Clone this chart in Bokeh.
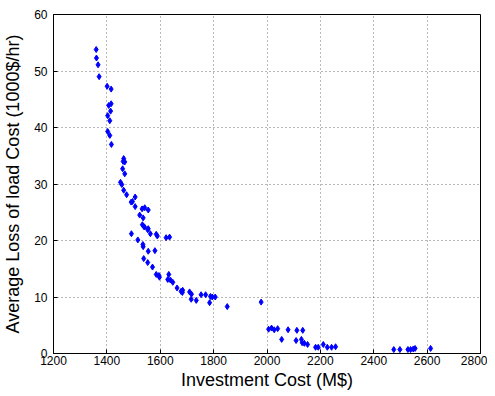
from bokeh.plotting import figure
from bokeh.models import FixedTicker, Range1d
from bokeh.embed import file_html
from bokeh.resources import INLINE

investment = [1360, 1361, 1367, 1371, 1401, 1416, 1416, 1407, 1414, 1403, 1411, 1403, 1411, 1417,
              1463, 1461, 1467, 1459, 1467, 1451, 1456, 1463, 1474, 1506, 1496, 1491, 1506, 1532,
              1542, 1555, 1523, 1536, 1533, 1541, 1555, 1538, 1553, 1563, 1585, 1589, 1492, 1622,
              1635, 1516, 1535, 1536, 1555, 1580, 1538, 1553, 1571, 1585, 1595, 1597, 1632, 1628,
              1638, 1647, 1663, 1678, 1684, 1683, 1710, 1717, 1716, 1735, 1753, 1770, 1788, 1806,
              1795, 1785, 1851, 1978, 2006, 2017, 2027, 2040, 2055, 2079, 2109, 2112, 2129, 2134,
              2132, 2140, 2152, 2182, 2192, 2211, 2226, 2242, 2257, 2475, 2498, 2528, 2538, 2548,
              2555, 2613]
loss = [53.8, 52.3, 51.1, 49.0, 47.3, 46.8, 44.2, 43.9, 42.9, 42.1, 41.2, 39.3, 38.6, 37.0,
        34.5, 34.0, 33.9, 32.7, 31.8, 30.3, 29.9, 28.9, 28.1, 27.7, 26.9, 26.8, 26.0, 25.6,
        25.8, 25.4, 24.5, 24.0, 22.8, 22.4, 22.1, 22.5, 21.9, 21.2, 21.1, 20.8, 21.2, 20.5,
        20.6, 20.1, 19.3, 18.9, 18.1, 18.2, 16.8, 16.1, 15.3, 14.0, 13.8, 13.5, 14.0, 13.1,
        13.0, 12.6, 11.6, 11.0, 11.2, 10.8, 10.9, 10.5, 9.6, 9.4, 10.4, 10.4, 10.1, 10.0,
        10.0, 9.0, 8.3, 9.1, 4.3, 4.5, 4.2, 4.4, 2.5, 4.2, 2.3, 4.1, 2.5, 4.1,
        1.9, 1.8, 1.6, 1.1, 1.1, 1.6, 1.1, 1.1, 1.2, 0.7, 0.7, 0.7, 0.7, 0.8,
        0.9, 0.9]

x_ticks = [1200, 1400, 1600, 1800, 2000, 2200, 2400, 2600, 2800]
y_ticks = [0, 10, 20, 30, 40, 50, 60]

FONT = "Liberation Sans"

p = figure(frame_width=427, frame_height=339, output_backend="svg", toolbar_location=None,
           x_range=Range1d(1200, 2800), y_range=Range1d(0, 60),
           min_border_left=52, min_border_right=7, min_border_top=14, min_border_bottom=38)
p.background_fill_color = "white"
p.border_fill_color = "white"
p.outline_line_color = "black"
p.outline_line_width = 1

p.scatter(investment, loss, marker="diamond", size=6, fill_color="#0000FF", line_color="#0000FF")

for ax in [p.xaxis[0], p.yaxis[0]]:
    ax.major_tick_in = 4
    ax.major_tick_out = 0
    ax.minor_tick_in = 0
    ax.minor_tick_out = 0
    ax.axis_line_color = "black"
    ax.major_tick_line_color = "black"
    ax.major_label_text_font = FONT
    ax.major_label_text_font_size = "12px"
    ax.major_label_text_color = "black"
    ax.axis_label_text_font = FONT
    ax.axis_label_text_font_size = "18px"
    ax.axis_label_text_font_style = "normal"
    ax.axis_label_text_color = "black"

p.xaxis[0].ticker = FixedTicker(ticks=x_ticks)
p.yaxis[0].ticker = FixedTicker(ticks=y_ticks)
p.xaxis[0].axis_label = "Investment Cost (M$)"
p.yaxis[0].axis_label = "Average Loss of load Cost (1000$/hr)"
p.xaxis[0].major_label_standoff = 2
p.yaxis[0].major_label_standoff = 6
p.xaxis[0].axis_label_standoff = 2
p.yaxis[0].axis_label_standoff = 8

p.grid.grid_line_color = "black"
p.grid.grid_line_alpha = 0.55
p.grid.grid_line_dash = "1 3"
p.xgrid.ticker = FixedTicker(ticks=x_ticks)
p.ygrid.ticker = FixedTicker(ticks=y_ticks)

open("out.html", "w").write(file_html(p, INLINE))
